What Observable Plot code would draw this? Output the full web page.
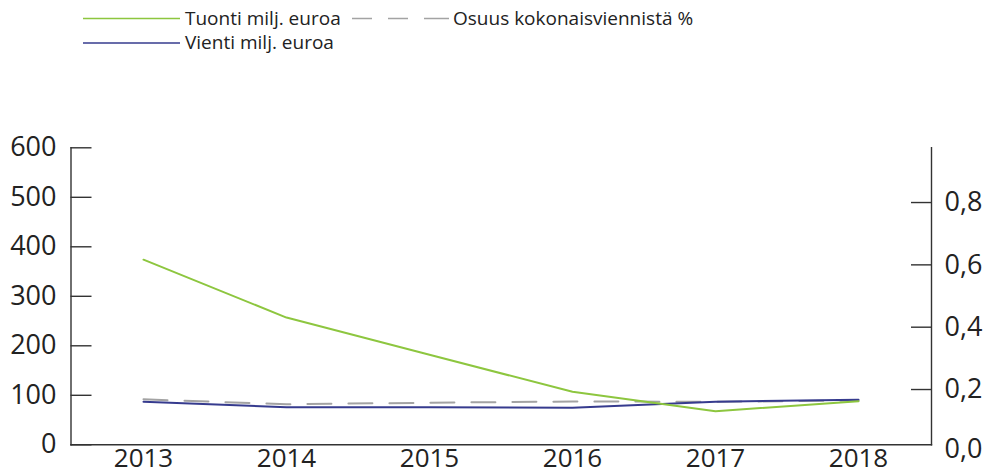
<!DOCTYPE html>
<html>
<head>
<meta charset="utf-8">
<script src="https://cdn.jsdelivr.net/npm/d3@7"></script>
<script src="https://cdn.jsdelivr.net/npm/@observablehq/plot@0.6"></script>
<style>
  body { margin: 0; background: #fff; }
  #wrap { position: relative; width: 991px; height: 474px; font-family: "Open Sans", sans-serif; }
  #legend { position: absolute; left: 0; top: 0; }
  #chart { position: absolute; left: 0; top: 0; }
</style>
</head>
<body>
<div id="wrap">
  <div id="chart"></div>
  <svg id="legend" width="991" height="60"></svg>
</div>
<script>
// ---- data ----
const years = [2013, 2014, 2015, 2016, 2017, 2018];
const tuonti = [374, 257, 182, 107, 68, 88];      // Tuonti milj. euroa
const vienti = [87, 76, 76, 75, 87, 91];          // Vienti milj. euroa
const osuus = [0.159, 0.143, 0.148, 0.152, 0.151, 0.155]; // Osuus kokonaisviennistä %
const seriesNames = ["Tuonti milj. euroa", "Vienti milj. euroa", "Osuus kokonaisviennistä %"];
const leftTicks = [0, 100, 200, 300, 400, 500, 600];
const rightTicks = [0.2, 0.4, 0.6, 0.8];
const rightZeroTick = [0];
const leftDomain = [0, 600];
const rightDomain = [0.013, 0.966];

// ---- styles ----
const green = "#8dc63f";
const blue = "#363b8e";
const grey = "#a3a3a3";
const axisColor = "#333";

// right axis values mapped onto left scale
const rs = d3.scaleLinear().domain(rightDomain).range(leftDomain);
const fmt = v => d3.format(".1f")(v).replace(".", ",");

const rows = years.map((y, i) => ({year: y, tuonti: tuonti[i], vienti: vienti[i], osuus: osuus[i]}));

const chart = Plot.plot({
  width: 991,
  height: 474,
  marginLeft: 70.5,
  marginRight: 60,
  marginTop: 147.3,
  marginBottom: 29.7,
  style: {fontFamily: "Open Sans", fontSize: "27px", color: "#222", background: "transparent", overflow: "visible"},
  x: {type: "point", domain: years, padding: 0.5},
  y: {domain: leftDomain},
  marks: [
    Plot.frame({anchor: "left", stroke: axisColor, strokeWidth: 1.4}),
    Plot.frame({anchor: "right", stroke: axisColor, strokeWidth: 1.4}),
    Plot.frame({anchor: "bottom", stroke: axisColor, strokeWidth: 1.4}),
    Plot.axisX({tickSize: 0, tickPadding: 3.5, tickFormat: d => String(d), label: null, fontSize: 26}),
    Plot.axisY({ticks: leftTicks, tickSize: -21, tickPadding: 35.5, tickFormat: d => String(d), label: null, fontSize: 27, stroke: axisColor, strokeWidth: 1.4}),
    Plot.axisY({anchor: "right", ticks: rightTicks.map(rs), tickSize: -21, tickPadding: 34, tickFormat: v => fmt(rs.invert(v)), label: null, fontSize: 27, stroke: axisColor, strokeWidth: 1.4, dy: 3}),
    Plot.axisY({anchor: "right", ticks: rightZeroTick.map(rs), tickSize: 0, tickPadding: 13, tickFormat: v => fmt(rs.invert(v)), label: null, fontSize: 27, dy: 1}),
    Plot.line(rows, {x: "year", y: d => rs(d.osuus), stroke: grey, strokeWidth: 2, strokeDasharray: "24,17"}),
    Plot.line(rows, {x: "year", y: "vienti", stroke: blue, strokeWidth: 2}),
    Plot.line(rows, {x: "year", y: "tuonti", stroke: green, strokeWidth: 2})
  ]
});
document.getElementById("chart").append(chart);

// ---- legend ----
const legend = d3.select("#legend");
const items = [
  {name: seriesNames[0], color: green, dash: null, x1: 83, x2: 180, y: 18.5, tx: 185},
  {name: seriesNames[2], color: grey, dash: "20,16,20,16,25", x1: 352, x2: 449, y: 18.5, tx: 453},
  {name: seriesNames[1], color: blue, dash: null, x1: 83, x2: 180, y: 43, tx: 185}
];
for (const it of items) {
  legend.append("line")
    .attr("x1", it.x1).attr("x2", it.x2).attr("y1", it.y).attr("y2", it.y)
    .attr("stroke", it.color).attr("stroke-width", 1.6)
    .attr("stroke-dasharray", it.dash);
  legend.append("text")
    .attr("x", it.tx).attr("y", it.y + 6.3)
    .attr("font-family", "Open Sans").attr("font-size", 19).attr("fill", "#222")
    .text(it.name);
}
</script>
</body>
</html>
